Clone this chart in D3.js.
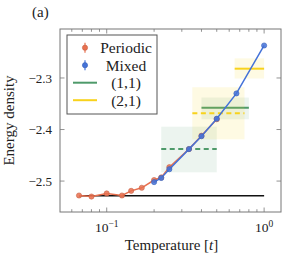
<!DOCTYPE html>
<html>
<head>
<script src="https://d3js.org/d3.v7.min.js"></script>
</head>
<body style="margin:0">
<svg id="chart" width="283" height="258"></svg>
<script>
// data
var tPeriodic = [0.0667, 0.08, 0.1, 0.125, 0.143, 0.167, 0.2, 0.222, 0.25, 0.333, 0.4, 0.5];
var ePeriodic = [-2.528, -2.530, -2.524, -2.528, -2.519, -2.513, -2.498, -2.493, -2.473, -2.438, -2.412, -2.380];
var tMixed = [0.2, 0.222, 0.25, 0.333, 0.4, 0.5, 0.667, 1.0];
var eMixed = [-2.502, -2.494, -2.477, -2.438, -2.413, -2.379, -2.330, -2.237];
var groundT = [0.0667, 1.0];
var groundE = -2.5285;

// bands: [tMin, tMax, value, lo, hi, style]
var band11 = [
  [0.222, 0.5, -2.438, -2.483, -2.3945, "dash"],
  [0.4, 0.8, -2.358, -2.380, -2.338, "solid"]
];
var band21 = [
  [0.35, 0.75, -2.3686, -2.419, -2.318, "dash"],
  [0.65, 1.0, -2.282, -2.301, -2.262, "solid"]
];

var yTicks = [-2.5, -2.4, -2.3];
var xMajor = [0.1, 1];
var xMinor = [0.06, 0.07, 0.08, 0.09, 0.2, 0.3, 0.4, 0.5, 0.6, 0.7, 0.8, 0.9];

var cOrange = "#e8704f", cBlue = "#4472d8", cGreen = "#4e9a6a", cYellow = "#f8d21c";

var svg = d3.select("#chart");
var m = {left: 60, right: 2, top: 29, bottom: 46};
var W = 283, H = 258;
var serif = "'Liberation Serif'";

var x = d3.scaleLog().domain([0.0505, 1.28]).range([m.left, W - m.right]);
var y = d3.scaleLinear().domain([-2.56, -2.205]).range([H - m.bottom, m.top]);

// bands
function drawBands(bands, col, op) {
  bands.forEach(function (b) {
    svg.append("rect")
      .attr("x", x(b[0])).attr("width", x(b[1]) - x(b[0]))
      .attr("y", y(b[4])).attr("height", y(b[3]) - y(b[4]))
      .attr("fill", col).attr("fill-opacity", op);
  });
  bands.forEach(function (b) {
    svg.append("line")
      .attr("x1", x(b[0])).attr("x2", x(b[1]))
      .attr("y1", y(b[2])).attr("y2", y(b[2]))
      .attr("stroke", col).attr("stroke-width", 2)
      .attr("stroke-dasharray", b[5] == "dash" ? "5,3.5" : null);
  });
}
drawBands(band11, cGreen, 0.11);
drawBands(band21, cYellow, 0.12);

// ground state line
svg.append("line")
  .attr("x1", x(groundT[0])).attr("x2", x(groundT[1]))
  .attr("y1", y(groundE)).attr("y2", y(groundE))
  .attr("stroke", "#111").attr("stroke-width", 1.5);

var line = d3.line().x(function (d) { return x(d[0]); }).y(function (d) { return y(d[1]); });

function series(ts, es, col) {
  var pts = d3.zip(ts, es);
  svg.append("path").datum(pts).attr("d", line)
    .attr("fill", "none").attr("stroke", col).attr("stroke-width", 1.5);
  svg.append("g").selectAll("circle").data(pts).enter().append("circle")
    .attr("cx", function (d) { return x(d[0]); })
    .attr("cy", function (d) { return y(d[1]); })
    .attr("r", 2.6)
    .attr("fill", col).attr("fill-opacity", 0.85)
    .attr("stroke", d3.color(col).darker(0.4)).attr("stroke-width", 0.6);
}
series(tPeriodic, ePeriodic, cOrange);
series(tMixed, eMixed, cBlue);

// frame
var axCol = "#777";
svg.append("rect")
  .attr("x", m.left).attr("y", m.top)
  .attr("width", W - m.right - m.left).attr("height", H - m.bottom - m.top)
  .attr("fill", "none").attr("stroke", axCol).attr("stroke-width", 1);

// ticks (inside, mirrored)
var tk = svg.append("g").attr("stroke", axCol).attr("stroke-width", 0.8);
xMajor.forEach(function (v) {
  tk.append("line").attr("x1", x(v)).attr("x2", x(v)).attr("y1", H - m.bottom).attr("y2", H - m.bottom - 4.5);
  tk.append("line").attr("x1", x(v)).attr("x2", x(v)).attr("y1", m.top).attr("y2", m.top + 4.5);
});
xMinor.forEach(function (v) {
  tk.append("line").attr("x1", x(v)).attr("x2", x(v)).attr("y1", H - m.bottom).attr("y2", H - m.bottom - 2.8);
  tk.append("line").attr("x1", x(v)).attr("x2", x(v)).attr("y1", m.top).attr("y2", m.top + 2.8);
});
yTicks.forEach(function (v) {
  tk.append("line").attr("x1", m.left).attr("x2", m.left + 4.5).attr("y1", y(v)).attr("y2", y(v));
  tk.append("line").attr("x1", W - m.right).attr("x2", W - m.right - 4.5).attr("y1", y(v)).attr("y2", y(v));
});

// tick labels
svg.append("g").selectAll("text").data(yTicks).enter().append("text")
  .style("font-family", serif).attr("fill", "#222")
  .attr("x", m.left - 8).attr("y", function (d) { return y(d); })
  .attr("dy", "0.35em").attr("text-anchor", "end").attr("font-size", 13)
  .text(function (d) { return "\u2212" + Math.abs(d).toFixed(1); });

var xl = svg.append("g").selectAll("text").data(xMajor).enter().append("text")
  .style("font-family", serif).attr("fill", "#222")
  .attr("x", function (d) { return x(d); }).attr("y", H - m.bottom + 20)
  .attr("text-anchor", "middle").attr("font-size", 13.5);
xl.append("tspan").text("10");
xl.append("tspan").attr("dy", -5).attr("font-size", 9.5)
  .text(function (d) { return d == 1 ? "0" : "\u22121"; });

// axis titles
var xt = svg.append("text").style("font-family", serif).attr("fill", "#222")
  .attr("x", (m.left + W - m.right) / 2 + 1).attr("y", H - 8)
  .attr("text-anchor", "middle").attr("font-size", 15);
xt.append("tspan").text("Temperature [");
xt.append("tspan").attr("font-style", "italic").text("t");
xt.append("tspan").text("]");

svg.append("text").style("font-family", serif).attr("fill", "#222")
  .attr("transform", "translate(14," + (m.top + H - m.bottom) / 2 + ") rotate(-90)")
  .attr("text-anchor", "middle").attr("font-size", 15)
  .text("Energy density");

svg.append("text").style("font-family", serif).attr("fill", "#222")
  .attr("x", 32).attr("y", 17).attr("font-size", 15).text("(a)");

// legend
var lg = svg.append("g").attr("transform", "translate(67,35)");
lg.append("rect").attr("width", 90).attr("height", 79)
  .attr("fill", "#fff").attr("stroke", "#555").attr("stroke-width", 1);
var items = [
  {name: "Periodic", col: cOrange, kind: "pt"},
  {name: "Mixed", col: cBlue, kind: "pt"},
  {name: "(1,1)", col: cGreen, kind: "ln"},
  {name: "(2,1)", col: cYellow, kind: "ln"}
];
items.forEach(function (it, i) {
  var yy = 12.7 + i * 17.5;
  if (it.kind == "pt") {
    lg.append("line").attr("x1", 18).attr("x2", 18).attr("y1", yy - 5).attr("y2", yy + 5)
      .attr("stroke", it.col).attr("stroke-width", 1.2);
    lg.append("circle").attr("cx", 18).attr("cy", yy).attr("r", 2.6)
      .attr("fill", it.col).attr("stroke", d3.color(it.col).darker(0.4)).attr("stroke-width", 0.6);
  } else {
    lg.append("line").attr("x1", 6).attr("x2", 30).attr("y1", yy).attr("y2", yy)
      .attr("stroke", it.col).attr("stroke-width", 2);
  }
  lg.append("text").style("font-family", serif).attr("fill", "#222")
    .attr("x", 59).attr("y", yy).attr("dy", "0.35em")
    .attr("text-anchor", "middle").attr("font-size", 15.5).text(it.name);
});
</script>
</body>
</html>
